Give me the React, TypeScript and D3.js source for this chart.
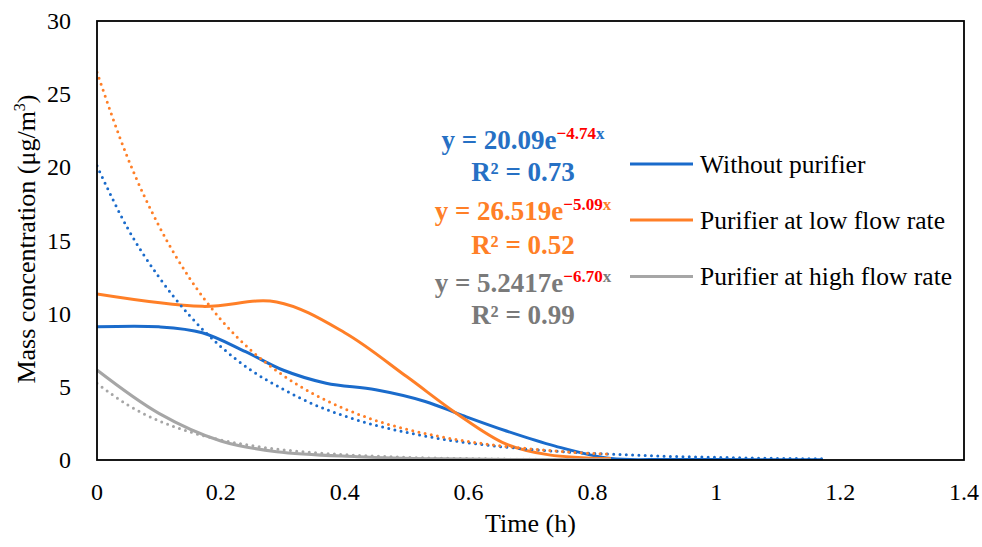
import React from "react";
import * as d3 from "d3";

// ---- data ----
const blueT = [0, 0.1, 0.17, 0.24, 0.3, 0.37, 0.45, 0.53, 0.59, 0.66, 0.74, 0.83, 0.92, 1.0, 1.17];
const blueV = [9.1, 9.1, 8.7, 7.4, 6.15, 5.25, 4.8, 4.0, 3.05, 2.0, 0.95, 0.1, 0.04, 0.03, 0.02];

const orangeT = [0, 0.17, 0.29, 0.4, 0.5, 0.58, 0.66, 0.73, 0.83];
const orangeV = [11.35, 10.5, 10.8, 8.7, 5.7, 3.2, 1.1, 0.35, 0.1];

const grayT = [0, 0.1, 0.2, 0.29, 0.42, 0.55, 0.83];
const grayV = [6.15, 3.19, 1.3, 0.57, 0.23, 0.08, 0.02];

// trendlines (dotted)
const blueTrendT = [0, 0.05, 0.1, 0.15, 0.2, 0.25, 0.3, 0.35, 0.4, 0.45, 0.5, 0.55, 0.6, 0.65, 0.7, 0.75, 0.8, 0.85, 0.9, 0.95, 1.0, 1.05, 1.1, 1.17];
const blueTrendV = [20.1, 15.8, 12.5, 9.85, 7.75, 6.1, 4.85, 3.8, 3.0, 2.37, 1.88, 1.48, 1.17, 0.92, 0.73, 0.57, 0.45, 0.36, 0.28, 0.22, 0.18, 0.14, 0.11, 0.08];

const orangeTrendT = [0, 0.05, 0.1, 0.15, 0.2, 0.25, 0.3, 0.35, 0.4, 0.45, 0.5, 0.55, 0.6, 0.65, 0.7, 0.75, 0.8, 0.83];
const orangeTrendV = [26.5, 20.6, 16.0, 12.4, 9.6, 7.45, 5.8, 4.5, 3.5, 2.7, 2.1, 1.63, 1.26, 0.98, 0.76, 0.58, 0.45, 0.39];

const grayTrendT = [0, 0.05, 0.1, 0.15, 0.2, 0.25, 0.3, 0.35, 0.4, 0.45, 0.5, 0.6, 0.7, 0.83];
const grayTrendV = [5.24, 3.75, 2.68, 1.92, 1.37, 0.98, 0.7, 0.5, 0.36, 0.26, 0.18, 0.094, 0.048, 0.02];

const xTicks = [0, 0.2, 0.4, 0.6, 0.8, 1, 1.2, 1.4];
const yTicks = [0, 5, 10, 15, 20, 25, 30];

const seriesNames = ["Without purifier", "Purifier at low flow rate", "Purifier at high flow rate"];
const eqCoef = ["20.09", "26.519", "5.2417"];
const eqExp = ["\u22124.74", "\u22125.09", "\u22126.70"];
const eqR2 = ["0.73", "0.52", "0.99"];

const COLORS = ["#1A6BCB", "#FF7F27", "#A6A6A6"];
const EQ_COLORS = ["#2670C4", "#FF7F27", "#7A7A7A"];

const FONT = "'Liberation Serif', 'Times New Roman', serif";

export default function App() {
  const W = 982, H = 547;
  const x = d3.scaleLinear().domain([0, 1.4]).range([97, 964]);
  const y = d3.scaleLinear().domain([0, 30]).range([460, 21]);

  const smooth = d3.line<[number, number]>().x(d => x(d[0])).y(d => y(d[1])).curve(d3.curveCatmullRom.alpha(0.5));
  const trendLine = d3.line<[number, number]>().x(d => x(d[0])).y(d => y(d[1])).curve(d3.curveMonotoneX);
  const zip = (t: number[], v: number[]) => t.map((tt, i) => [tt, v[i]] as [number, number]);

  const solids = [zip(blueT, blueV), zip(orangeT, orangeV), zip(grayT, grayV)];
  const trends = [zip(blueTrendT, blueTrendV), zip(orangeTrendT, orangeTrendV), zip(grayTrendT, grayTrendV)];

  const legendY = [164, 220, 276.5];
  const eqY = [149, 220, 292];
  const r2Y = [181, 254, 324];

  return (
    <div style={{ position: "absolute", left: 0, top: 0 }}>
      <svg width={W} height={H} style={{ display: "block", background: "#fff" }} fontFamily={FONT}>
        <rect x={0} y={0} width={W} height={H} fill="#fff" />
        <defs>
          <clipPath id="plotClip">
            <rect x={x(0)} y={y(30)} width={x(1.4) - x(0)} height={y(0) - y(30)} />
          </clipPath>
        </defs>
        <g clipPath="url(#plotClip)">
          {/* solid series */}
          {solids.map((d, i) => (
            <path key={"s" + i} d={smooth(d) || ""} fill="none" stroke={COLORS[i]} strokeWidth={3} strokeLinejoin="round" />
          ))}
          {/* trendlines */}
          {trends.map((d, i) => (
            <path key={"t" + i} d={trendLine(d) || ""} fill="none" stroke={COLORS[i]} strokeWidth={3}
              strokeDasharray="0 6.3" strokeLinecap="round" />
          ))}
        </g>
        {/* frame */}
        <rect x={x(0)} y={y(30)} width={x(1.4) - x(0)} height={y(0) - y(30)} fill="none" stroke="#000" strokeWidth={1.8} />
        {/* y ticks */}
        {yTicks.map(v => (
          <text key={"y" + v} x={71} y={y(v)} dy="0.34em" textAnchor="end" fontSize={24} fill="#000">{v}</text>
        ))}
        {/* x ticks */}
        {xTicks.map(v => (
          <text key={"x" + v} x={x(v)} y={500} textAnchor="middle" fontSize={24} fill="#000">{v}</text>
        ))}
        <text x={(x(0) + x(1.4)) / 2} y={532} textAnchor="middle" fontSize={26} fill="#000">Time (h)</text>
        <text transform={`translate(35,239) rotate(-90)`} textAnchor="middle" fontSize={26} fill="#000">
          Mass concentration (μg/m<tspan fontSize={16} dy={-10}>3</tspan><tspan dy={10}>)</tspan>
        </text>
        {/* legend */}
        {seriesNames.map((n, i) => (
          <g key={"l" + i}>
            <line x1={630} x2={693} y1={legendY[i]} y2={legendY[i]} stroke={COLORS[i]} strokeWidth={3} />
            <text x={700} y={legendY[i] + 8.5} fontSize={25.5} fill="#000">{n}</text>
          </g>
        ))}
        {/* equations */}
        {eqCoef.map((c, i) => (
          <g key={"e" + i} fontWeight="bold">
            <text x={523} y={eqY[i]} textAnchor="middle" fontSize={27} fill={EQ_COLORS[i]}>
              {`y = ${c}e`}
              <tspan fontSize={17} dy={-10} fill="#FF0000">{eqExp[i]}</tspan>
              <tspan fontSize={17}>x</tspan>
            </text>
            <text x={523} y={r2Y[i]} textAnchor="middle" fontSize={27} fill={EQ_COLORS[i]}>{`R² = ${eqR2[i]}`}</text>
          </g>
        ))}
      </svg>
    </div>
  );
}
